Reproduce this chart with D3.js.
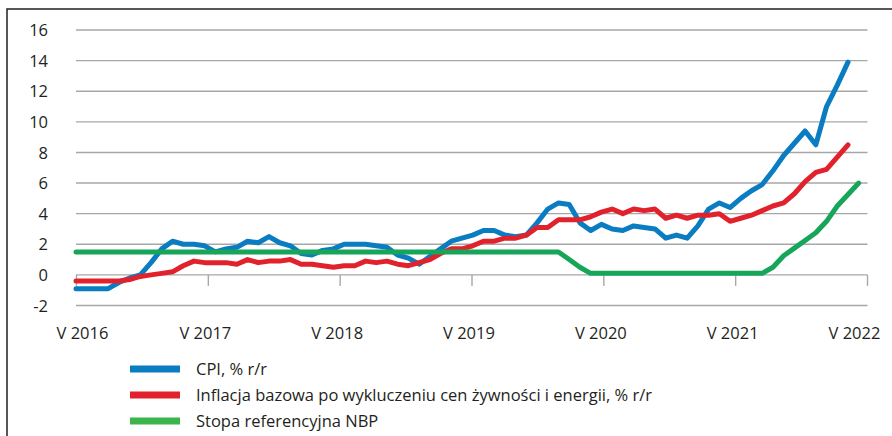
<!DOCTYPE html>
<html>
<head>
<meta charset="utf-8">
<script src="https://cdn.jsdelivr.net/npm/d3@7"></script>
<style>
  body { margin: 0; background: #fff; }
  svg { display: block; }
  text { font-family: 'Open Sans', 'Noto Sans', sans-serif; fill: #231f20; }
</style>
</head>
<body>
<svg id="chart" width="892" height="436"></svg>
<script>
// monthly data, V 2016 (May 2016) onwards
const years = [2016, 2017, 2018, 2019, 2020, 2021, 2022];
const yTicks = [-2, 0, 2, 4, 6, 8, 10, 12, 14, 16];

const cpi = [
  -0.9, -0.9, -0.9, -0.9, -0.5, -0.2, 0.0, 0.8,
  1.7, 2.2, 2.0, 2.0, 1.9, 1.5, 1.7, 1.8, 2.2, 2.1, 2.5, 2.1,
  1.9, 1.4, 1.3, 1.6, 1.7, 2.0, 2.0, 2.0, 1.9, 1.8, 1.3, 1.1,
  0.7, 1.2, 1.7, 2.2, 2.4, 2.6, 2.9, 2.9, 2.6, 2.5, 2.6, 3.4,
  4.3, 4.7, 4.6, 3.4, 2.9, 3.3, 3.0, 2.9, 3.2, 3.1, 3.0, 2.4,
  2.6, 2.4, 3.2, 4.3, 4.7, 4.4, 5.0, 5.5, 5.9, 6.8, 7.8, 8.6,
  9.4, 8.5, 11.0, 12.4, 13.9
];

const core = [
  -0.4, -0.4, -0.4, -0.4, -0.4, -0.3, -0.1, 0.0,
  0.1, 0.2, 0.6, 0.9, 0.8, 0.8, 0.8, 0.7, 1.0, 0.8, 0.9, 0.9,
  1.0, 0.7, 0.7, 0.6, 0.5, 0.6, 0.6, 0.9, 0.8, 0.9, 0.7, 0.6,
  0.8, 1.0, 1.4, 1.7, 1.7, 1.9, 2.2, 2.2, 2.4, 2.4, 2.6, 3.1,
  3.1, 3.6, 3.6, 3.6, 3.8, 4.1, 4.3, 4.0, 4.3, 4.2, 4.3, 3.7,
  3.9, 3.7, 3.9, 3.9, 4.0, 3.5, 3.7, 3.9, 4.2, 4.5, 4.7, 5.3,
  6.1, 6.7, 6.9, 7.7, 8.5
];

const rate = [
  1.5, 1.5, 1.5, 1.5, 1.5, 1.5, 1.5, 1.5,
  1.5, 1.5, 1.5, 1.5, 1.5, 1.5, 1.5, 1.5, 1.5, 1.5, 1.5, 1.5,
  1.5, 1.5, 1.5, 1.5, 1.5, 1.5, 1.5, 1.5, 1.5, 1.5, 1.5, 1.5,
  1.5, 1.5, 1.5, 1.5, 1.5, 1.5, 1.5, 1.5, 1.5, 1.5, 1.5, 1.5,
  1.5, 1.5, 1.0, 0.5, 0.1, 0.1, 0.1, 0.1, 0.1, 0.1, 0.1, 0.1,
  0.1, 0.1, 0.1, 0.1, 0.1, 0.1, 0.1, 0.1, 0.1, 0.5, 1.25, 1.75,
  2.25, 2.75, 3.5, 4.5, 5.25, 6.0
];

const seriesNames = [
  'CPI, % r/r',
  'Inflacja bazowa po wykluczeniu cen żywności i energii, % r/r',
  'Stopa referencyjna NBP'
];
const colors = ['#0a7cc1', '#e1222d', '#17a659'];
const legendColors = ['#0a7cc1', '#e1222d', '#3bb44a'];

const svg = d3.select('svg#chart');

// frame (top + left rule)
svg.append('path')
  .attr('d', 'M7,436V9H892')
  .attr('fill', 'none')
  .attr('stroke', '#231f20')
  .attr('stroke-width', 1.5);

const y = d3.scaleLinear().domain([-2, 16]).range([305.5, 30]);
const xData = d3.scaleLinear().domain([0, 72]).range([76, 848]);
const xTick = d3.scaleLinear().domain([2016, 2022]).range([76, 867]);

// gridlines
svg.append('g').selectAll('line').data(yTicks)
  .enter().append('line')
    .attr('x1', 76).attr('x2', 867.5)
    .attr('y1', d => y(d)).attr('y2', d => y(d))
    .attr('stroke', '#a7a7a7')
    .attr('stroke-width', 1.4);

// y labels (plain hyphen for negatives, as in the original)
const yAxis = svg.append('g')
  .attr('transform', 'translate(48,0)')
  .call(d3.axisLeft(y).tickValues(yTicks).tickSize(0).tickPadding(0).tickFormat(d => String(d)));
yAxis.select('.domain').remove();
yAxis.selectAll('text')
  .attr('font-family', null)
  .style('font-size', '16.5px')
  .attr('dy', '0.34em');

// x axis
const xAxis = svg.append('g')
  .attr('transform', `translate(0,${y(0)})`)
  .call(d3.axisBottom(xTick).tickValues(years).tickSize(11).tickFormat(d => 'V ' + d));
xAxis.select('.domain').remove();
xAxis.selectAll('.tick line')
  .attr('stroke', '#a7a7a7')
  .attr('stroke-width', 1.4);
xAxis.selectAll('text')
  .attr('font-family', null)
  .style('font-size', '16.5px')
  .attr('y', 52)
  .attr('dy', '0.71em')
  .attr('dx', (d, i) => i === 0 ? 6 : (i === years.length - 1 ? -13 : -3));

// lines
const line = d3.line()
  .x((d, i) => xData(i))
  .y(d => y(d));

const series = [cpi, core, rate];
svg.append('g').selectAll('path').data(series)
  .enter().append('path')
    .attr('d', line)
    .attr('fill', 'none')
    .attr('stroke', (d, i) => colors[i])
    .attr('stroke-width', 5)
    .attr('stroke-linejoin', 'round')
    .attr('stroke-linecap', 'round');

// legend
const legend = svg.append('g').selectAll('g').data(seriesNames)
  .enter().append('g')
    .attr('transform', (d, i) => `translate(130,${369 + i * 26})`);

legend.append('rect')
  .attr('x', 0).attr('y', -3.5)
  .attr('width', 50).attr('height', 7)
  .attr('fill', (d, i) => legendColors[i]);

legend.append('text')
  .attr('x', 66)
  .attr('dy', '0.35em')
  .style('font-size', '16.5px')
  .text(d => d);
</script>
</body>
</html>
